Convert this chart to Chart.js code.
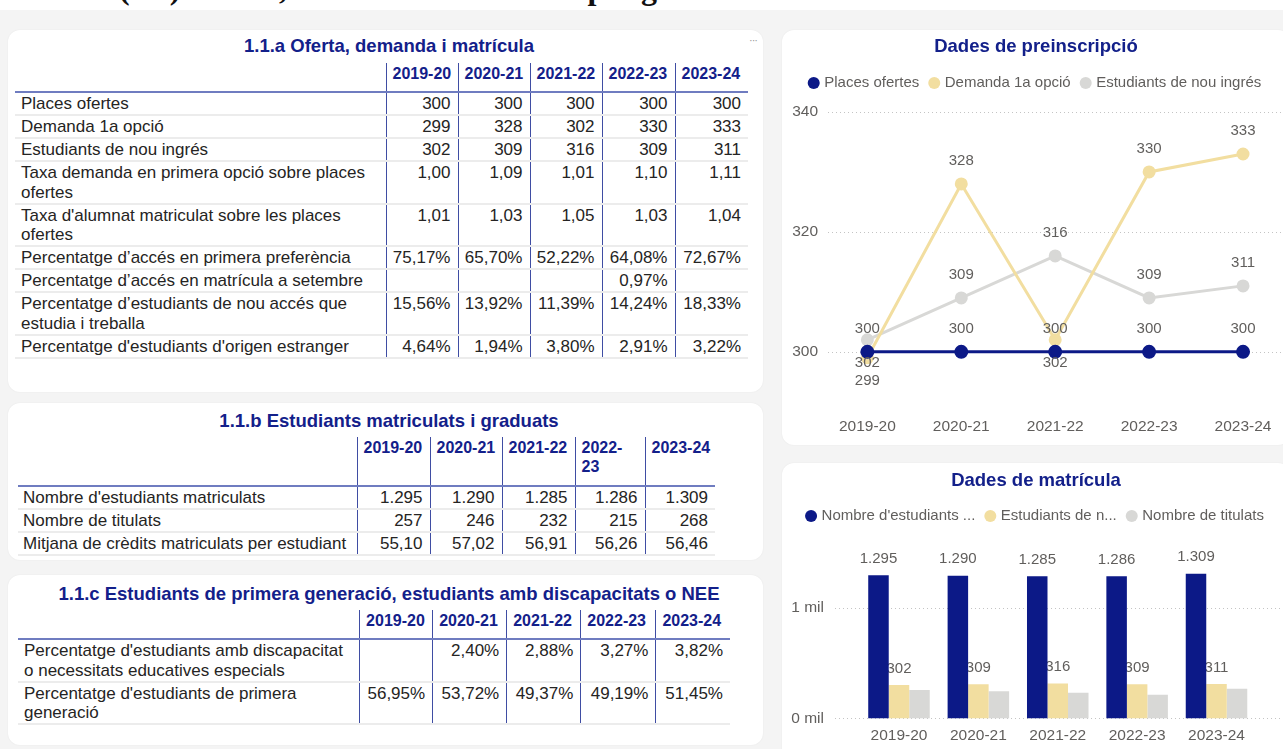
<!DOCTYPE html>
<html lang="ca">
<head>
<meta charset="utf-8">
<title>Oferta, demanda i matrícula</title>
<script src="https://cdn.jsdelivr.net/npm/chart.js@4.4.1/dist/chart.umd.min.js"></script>
<style>
  html, body { margin: 0; padding: 0; }
  body {
    width: 1283px; height: 749px; overflow: hidden; position: relative;
    background: #fff; color: #252423;
    font-family: 'Liberation Sans', Arial, sans-serif;
  }
  .heading {
    position: absolute; left: 2px; top: -28px; white-space: nowrap;
    font: bold 32px/32px 'Liberation Serif', 'Times New Roman', serif; color: #111;
  }
  .backdrop { position: absolute; left: 0; top: 10px; width: 1283px; height: 739px; background: #f4f4f4; }
  .card {
    position: absolute; background: #fff; border-radius: 12px; overflow: hidden;
    box-shadow: 0 0 2px rgba(0, 0, 0, 0.06);
  }
  .card-title {
    position: absolute; left: 0; width: 762px; text-align: center; white-space: nowrap;
    font-weight: bold; font-size: 18.5px; line-height: 22px; color: #13208a;
  }
  .more { position: absolute; right: 6px; top: 4px; font-size: 11px; color: #9a9a9a; letter-spacing: -1px; }
  table { position: absolute; border-collapse: collapse; table-layout: fixed; font-size: 17px; }
  th {
    text-align: left; vertical-align: top; white-space: nowrap;
    font-size: 16px; line-height: 19px; font-weight: bold; color: #13208a;
    padding: 1px 6px 8px; border-bottom: 2px solid #6f7cc0;
  }
  th.wrap { white-space: normal; }
  .tall th { padding-bottom: 9px; }
  th.yr, td.num { border-left: 1px solid #3f4da3; }
  td { vertical-align: top; line-height: 19.5px; padding: 1px 7px 0.5px 6px; border-bottom: 2px solid #ececec; }
  td.lbl { padding-left: 6px; padding-right: 4px; }
  .nowrap td.lbl { white-space: nowrap; padding-left: 5px; }
  td.num { text-align: right; white-space: nowrap; }
  canvas { position: absolute; left: 0; top: 0; }
</style>
</head>
<body>
<div class="heading">Taula 1. (1.1) Oferta, demanda i matrícula per graus de la Facultat de Ciències</div>
<div class="backdrop"></div>

<div class="card" style="left:8px;top:30px;width:755px;height:362px">
  <div class="card-title" style="top:5px">1.1.a Oferta, demanda i matrícula</div>
  <div class="more">···</div>
  <table id="tableA" style="left:7px;top:33px;width:733px"></table>
</div>

<div class="card" style="left:8px;top:403px;width:755px;height:157px">
  <div class="card-title" style="top:7px">1.1.b Estudiants matriculats i graduats</div>
  <table id="tableB" class="tall nowrap" style="left:10px;top:34px;width:697px"></table>
</div>

<div class="card" style="left:8px;top:575px;width:755px;height:170px">
  <div class="card-title" style="top:8px">1.1.c Estudiants de primera generació, estudiants amb discapacitats o NEE</div>
  <table id="tableC" style="left:10px;top:35px;width:712px"></table>
</div>

<div class="card" style="left:782px;top:30px;width:508px;height:415px">
  <canvas id="lineChart" width="508" height="415"></canvas>
</div>

<div class="card" style="left:782px;top:463px;width:508px;height:300px">
  <canvas id="barChart" width="508" height="300"></canvas>
</div>

<script>
const years = ['2019-20', '2020-21', '2021-22', '2022-23', '2023-24']

// 1.1.a
const placesOfertes = [300, 300, 300, 300, 300]
const demanda1aOpcio = [299, 328, 302, 330, 333]
const nouIngres = [302, 309, 316, 309, 311]
const taxaDemanda = [1.00, 1.09, 1.01, 1.10, 1.11]
const taxaMatricula = [1.01, 1.03, 1.05, 1.03, 1.04]
const pctPrimeraPreferencia = [75.17, 65.70, 52.22, 64.08, 72.67]
const pctSetembre = [null, null, null, 0.97, null]
const pctEstudiaTreballa = [15.56, 13.92, 11.39, 14.24, 18.33]
const pctEstranger = [4.64, 1.94, 3.80, 2.91, 3.22]

// 1.1.b
const matriculats = [1295, 1290, 1285, 1286, 1309]
const titulats = [257, 246, 232, 215, 268]
const mitjanaCredits = [55.10, 57.02, 56.91, 56.26, 56.46]

// 1.1.c
const pctDiscapacitat = [null, 2.40, 2.88, 3.27, 3.82]
const pctPrimeraGeneracio = [56.95, 53.72, 49.37, 49.19, 51.45]

const preinscripcioTicks = [300, 320, 340]
const matriculaTicks = [0, 1000]
const matriculaLegend = ["Nombre d'estudiants ...", 'Estudiants de n...', 'Nombre de titulats']

const NAVY = '#0c1987'
const SAND = '#f2dea0'
const GREY = '#d8d8d6'
const TEXT = '#605e5c'
const TITLE = '#13208a'

const fmtInt = (v) => String(v).replace(/\B(?=(\d{3})+(?!\d))/g, '.')
const fmtDec = (v) => v.toFixed(2).replace('.', ',')
const fmtPct = (v) => fmtDec(v) + '%'

const renderTable = (id, rows, widths, wrapCols = []) => {
  const table = document.getElementById(id)
  const cols = widths.map((w) => `<col style="width:${w}px">`).join('')
  const head = years.map((y, i) => wrapCols.includes(i)
    ? `<th class="yr wrap">${y.replace('-', '-<wbr>')}</th>`
    : `<th class="yr">${y}</th>`).join('')
  const body = rows.map(([label, values, fmt]) =>
    `<tr><td class="lbl">${label}</td>${values.map((v) =>
      `<td class="num">${v == null ? '' : fmt(v)}</td>`).join('')}</tr>`).join('')
  table.innerHTML = `<colgroup>${cols}</colgroup><thead><tr><th></th>${head}</tr></thead><tbody>${body}</tbody>`
}

renderTable('tableA', [
  ['Places ofertes', placesOfertes, fmtInt],
  ['Demanda 1a opció', demanda1aOpcio, fmtInt],
  ['Estudiants de nou ingrés', nouIngres, fmtInt],
  ['Taxa demanda en primera opció sobre places ofertes', taxaDemanda, fmtDec],
  ["Taxa d'alumnat matriculat sobre les places ofertes", taxaMatricula, fmtDec],
  ['Percentatge d’accés en primera preferència', pctPrimeraPreferencia, fmtPct],
  ['Percentatge d’accés en matrícula a setembre', pctSetembre, fmtPct],
  ['Percentatge d’estudiants de nou accés que estudia i treballa', pctEstudiaTreballa, fmtPct],
  ["Percentatge d'estudiants d'origen estranger", pctEstranger, fmtPct],
], [371, 72, 72, 72, 73, 73])

renderTable('tableB', [
  ["Nombre d'estudiants matriculats", matriculats, fmtInt],
  ['Nombre de titulats', titulats, fmtInt],
  ['Mitjana de crèdits matriculats per estudiant', mitjanaCredits, fmtDec],
], [339, 73, 72, 73, 70, 70], [3])

renderTable('tableC', [
  ["Percentatge d'estudiants amb discapacitat o necessitats educatives especials", pctDiscapacitat, fmtPct],
  ["Percentatge d'estudiants de primera generació", pctPrimeraGeneracio, fmtPct],
], [332, 71, 72, 72, 73, 72])

Chart.defaults.font.family = "'Liberation Sans', Arial, sans-serif"
Chart.defaults.color = TEXT

// dotted horizontal gridlines, running from a given x to the right edge
const dottedGrid = {
  id: 'dottedGrid',
  beforeDatasetsDraw(chart, args, opts) {
    const { ctx, scales: { y }, width } = chart
    ctx.save()
    ctx.strokeStyle = '#c4c4c4'
    ctx.lineWidth = 1
    ctx.setLineDash([1, 3])
    y.ticks.forEach((t) => {
      const py = Math.round(y.getPixelForValue(t.value)) + 0.5
      ctx.beginPath()
      ctx.moveTo(opts.from, py)
      ctx.lineTo(width, py)
      ctx.stroke()
    })
    ctx.restore()
  },
}

// extra room between legend and plot
const legendGap = {
  id: 'legendGap',
  beforeInit(chart, args, opts) {
    const fit = chart.legend.fit
    chart.legend.fit = function () {
      fit.call(this)
      this.height += opts.extra
    }
  },
}

const pointLabels = {
  id: 'pointLabels',
  afterDatasetsDraw(chart, args, opts) {
    const { ctx } = chart
    ctx.save()
    ctx.font = "15px 'Liberation Sans', Arial, sans-serif"
    ctx.fillStyle = TEXT
    ctx.textAlign = 'center'
    ctx.textBaseline = 'middle'
    chart.data.datasets.forEach((ds, di) => {
      chart.getDatasetMeta(di).data.forEach((pt, i) => {
        const below = (opts.below[di] || []).includes(i)
        ctx.fillText(fmtInt(ds.data[i]), pt.x, pt.y + (below ? 23 : -23))
      })
    })
    ctx.restore()
  },
}

// drawn per dataset, so later (front) bars can cover a label
const barLabels = {
  id: 'barLabels',
  afterDatasetDraw(chart, args, opts) {
    if (!opts.series.includes(args.index)) return
    const { ctx } = chart
    const values = chart.data.datasets[args.index].data
    ctx.save()
    ctx.font = "15px 'Liberation Sans', Arial, sans-serif"
    ctx.fillStyle = TEXT
    ctx.textAlign = 'center'
    ctx.textBaseline = 'middle'
    args.meta.data.forEach((bar, i) => {
      ctx.fillText(fmtInt(values[i]), bar.x, bar.y - 16.5)
    })
    ctx.restore()
  },
}

const legendOptions = (texts) => ({
  display: true,
  position: 'top',
  labels: {
    usePointStyle: true,
    pointStyle: 'circle',
    boxWidth: 6,
    boxHeight: 8.5,
    padding: 12,
    color: TEXT,
    font: { size: 15 },
    generateLabels: (chart) => Chart.defaults.plugins.legend.labels.generateLabels(chart)
      .map((item, i) => ({ ...item, lineWidth: 0, text: texts ? texts[i] : item.text })),
  },
})

const titleOptions = (text, top, bottom) => ({
  display: true,
  text,
  color: TITLE,
  font: { size: 18.5, weight: 'bold' },
  padding: { top, bottom },
})

const valueAxis = (min, max, ticks, width, padding, callback) => ({
  min,
  max,
  afterBuildTicks: (axis) => { axis.ticks = ticks.map((value) => ({ value })) },
  afterFit: (axis) => { axis.width = width },
  grid: { display: false, drawTicks: false },
  border: { display: false },
  ticks: { crossAlign: 'near', padding, color: TEXT, font: { size: 15.5 }, callback },
})

new Chart(document.getElementById('lineChart'), {
  type: 'line',
  data: {
    labels: years,
    datasets: [
      { label: 'Places ofertes', data: placesOfertes, borderColor: NAVY, backgroundColor: NAVY, borderWidth: 3, pointRadius: 5.5 },
      { label: 'Demanda 1a opció', data: demanda1aOpcio, borderColor: SAND, backgroundColor: SAND, borderWidth: 3, pointRadius: 5 },
      { label: 'Estudiants de nou ingrés', data: nouIngres, borderColor: GREY, backgroundColor: GREY, borderWidth: 3, pointRadius: 5 },
    ],
  },
  options: {
    responsive: false,
    animation: false,
    events: [],
    layout: { autoPadding: false, padding: { top: 1, left: 0, right: 0, bottom: 2.6 } },
    elements: { point: { borderWidth: 0 }, line: { tension: 0 } },
    scales: {
      x: {
        offset: true,
        grid: { display: false, drawTicks: false },
        border: { display: false },
        ticks: { padding: 6, color: TEXT, font: { size: 15.5 } },
      },
      y: valueAxis(290, 340, preinscripcioTicks, 38.4, 2.4),
    },
    plugins: {
      title: titleOptions('Dades de preinscripció', 4.9, 5.4),
      legend: legendOptions(null),
      tooltip: { enabled: false },
      dottedGrid: { from: 46 },
      legendGap: { extra: 11.5 },
      pointLabels: { below: [[], [0, 2], [0]] },
    },
  },
  plugins: [dottedGrid, legendGap, pointLabels],
})

new Chart(document.getElementById('barChart'), {
  type: 'bar',
  data: {
    labels: years,
    datasets: [
      { label: "Nombre d'estudiants matriculats", data: matriculats, backgroundColor: NAVY },
      { label: 'Estudiants de nou ingrés', data: nouIngres, backgroundColor: SAND },
      { label: 'Nombre de titulats', data: titulats, backgroundColor: GREY },
    ],
  },
  options: {
    responsive: false,
    animation: false,
    events: [],
    layout: { padding: { top: 2, left: 0, right: 0, bottom: 6.9 } },
    datasets: { bar: { categoryPercentage: 0.775, barPercentage: 1, borderWidth: 0 } },
    scales: {
      x: {
        grid: { display: false, drawTicks: false },
        border: { display: false },
        ticks: { padding: 8.5, color: TEXT, font: { size: 15.5 } },
      },
      y: valueAxis(0, 1550, matriculaTicks, 77.3, 35.3, (v) => `${v / 1000} mil`),
      // empty right-hand margin, as in the original visual
      gutter: {
        type: 'linear',
        position: 'right',
        display: true,
        afterFit: (axis) => { axis.width = 33.8 },
        grid: { display: false, drawTicks: false },
        border: { display: false },
        ticks: { display: false },
      },
    },
    plugins: {
      title: titleOptions('Dades de matrícula', 4.9, 4.4),
      legend: legendOptions(matriculaLegend),
      tooltip: { enabled: false },
      dottedGrid: { from: 53 },
      legendGap: { extra: 13.5 },
      barLabels: { series: [0, 1] },
    },
  },
  plugins: [dottedGrid, legendGap, barLabels],
})
</script>
</body>
</html>
